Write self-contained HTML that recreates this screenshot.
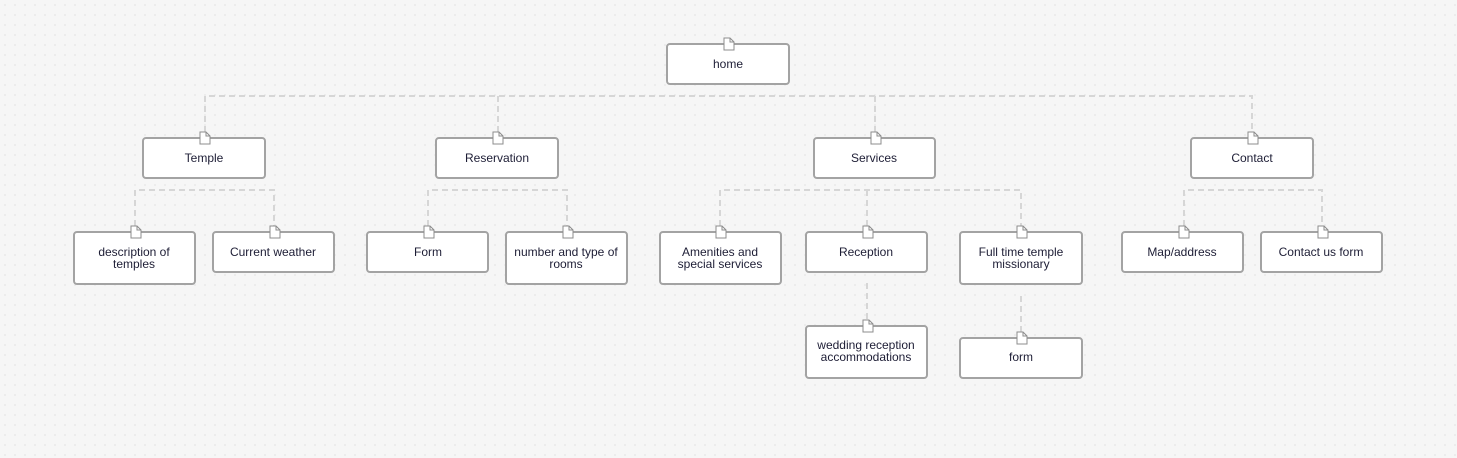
<!DOCTYPE html>
<html><head><meta charset="utf-8"><style>
html,body{margin:0;padding:0;width:1457px;height:458px;overflow:hidden;background:#f6f6f6;}
svg{display:block}
text{font-family:"Liberation Sans",sans-serif;font-size:12px;fill:#1d1d35;text-anchor:middle}
</style></head><body>
<svg width="1457" height="458" xmlns="http://www.w3.org/2000/svg">
<defs>
<pattern id="dots" width="10" height="10" patternUnits="userSpaceOnUse"><circle cx="5" cy="5" r="0.9" fill="#e6e6e6"/></pattern>
<g id="ic"><path d="M-5,-6 h6 l4,4 v8 h-10 z" fill="#fff" stroke="#8c8c8c" stroke-width="1"/><path d="M1,-6 v4 h4" fill="none" stroke="#8c8c8c" stroke-width="1"/></g>
</defs>
<rect width="1457" height="458" fill="url(#dots)"/>
<g fill="none" stroke="#d6d6d6" stroke-width="2" stroke-dasharray="6,4">
<path d="M205,132 V96 H1252 V132 M498,96 V132 M875,96 V132"/>
<path d="M135,226 V190 H274 V226"/>
<path d="M428,226 V190 H567 V226"/>
<path d="M720,226 V190 H1021 V226 M867,190 V226"/>
<path d="M1184,226 V190 H1322 V226"/>
<path d="M867,283 V320 M1021,296 V332"/>
</g>
<g fill="#fff" stroke="#a3a3a3" stroke-width="2">
<rect x="667" y="44" width="122" height="40" rx="3"/>
<rect x="143" y="138" width="122" height="40" rx="3"/>
<rect x="436" y="138" width="122" height="40" rx="3"/>
<rect x="814" y="138" width="121" height="40" rx="3"/>
<rect x="1191" y="138" width="122" height="40" rx="3"/>
<rect x="74" y="232" width="121" height="52" rx="3"/>
<rect x="213" y="232" width="121" height="40" rx="3"/>
<rect x="367" y="232" width="121" height="40" rx="3"/>
<rect x="506" y="232" width="121" height="52" rx="3"/>
<rect x="660" y="232" width="121" height="52" rx="3"/>
<rect x="806" y="232" width="121" height="40" rx="3"/>
<rect x="960" y="232" width="122" height="52" rx="3"/>
<rect x="1122" y="232" width="121" height="40" rx="3"/>
<rect x="1261" y="232" width="121" height="40" rx="3"/>
<rect x="806" y="326" width="121" height="52" rx="3"/>
<rect x="960" y="338" width="122" height="40" rx="3"/>
</g>
<use href="#ic" x="729" y="44"/>
<use href="#ic" x="205" y="138"/><use href="#ic" x="498" y="138"/><use href="#ic" x="876" y="138"/><use href="#ic" x="1253" y="138"/>
<use href="#ic" x="136" y="232"/><use href="#ic" x="275" y="232"/><use href="#ic" x="429" y="232"/><use href="#ic" x="568" y="232"/>
<use href="#ic" x="721" y="232"/><use href="#ic" x="868" y="232"/><use href="#ic" x="1022" y="232"/>
<use href="#ic" x="1184" y="232"/><use href="#ic" x="1323" y="232"/>
<use href="#ic" x="868" y="326"/><use href="#ic" x="1022" y="338"/>
<text x="728" y="68">home</text>
<text x="204" y="162">Temple</text>
<text x="497" y="162">Reservation</text>
<text x="874" y="162">Services</text>
<text x="1252" y="162">Contact</text>
<text x="134" y="256">description of</text><text x="134" y="268">temples</text>
<text x="273" y="256">Current weather</text>
<text x="428" y="256">Form</text>
<text x="566" y="256">number and type of</text><text x="566" y="268">rooms</text>
<text x="720" y="256">Amenities and</text><text x="720" y="268">special services</text>
<text x="866" y="256">Reception</text>
<text x="1021" y="256">Full time temple</text><text x="1021" y="268">missionary</text>
<text x="1182" y="256">Map/address</text>
<text x="1321" y="256">Contact us form</text>
<text x="866" y="349">wedding reception</text><text x="866" y="361">accommodations</text>
<text x="1021" y="361">form</text>
</svg>
</body></html>
